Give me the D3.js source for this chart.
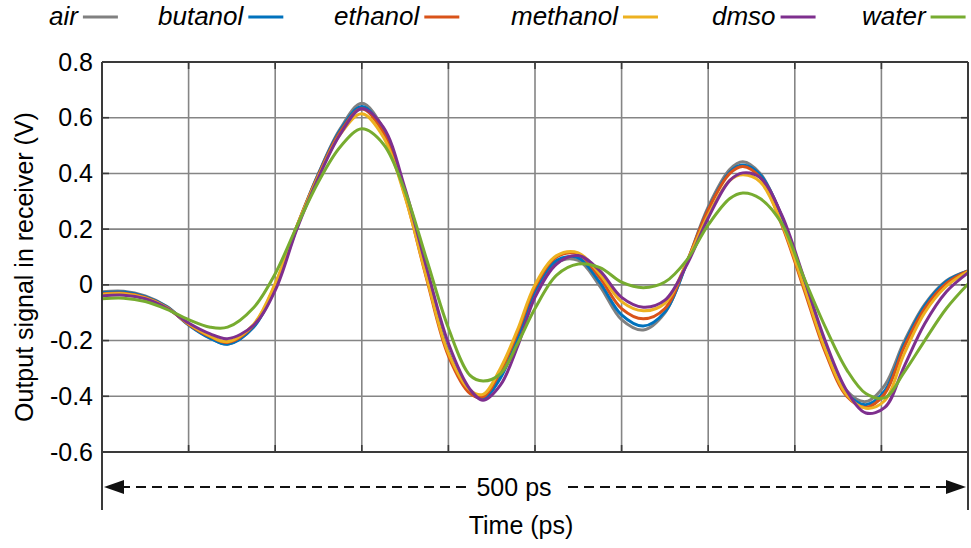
<!DOCTYPE html>
<html>
<head>
<meta charset="utf-8">
<script src="https://cdn.jsdelivr.net/npm/d3@7"></script>
<style>
  html, body { margin: 0; padding: 0; background: #fff; }
  svg { display: block; font-family: "Liberation Sans", Arial, Helvetica, sans-serif; }
</style>
</head>
<body>
<svg id="chart" width="971" height="548"></svg>
<script>
// Sample times (ps)
const times = [0, 12.5, 25, 37.5, 50, 62.5, 72.5, 87.5, 100, 112.5, 125, 137.5, 150, 162.5, 175, 187.5,
  200, 212.5, 220, 230, 240, 250, 262.5, 275, 287.5, 300, 312.5, 325, 337.5, 350,
  362.5, 370, 380, 392.5, 405, 417.5, 430, 441, 452, 463, 475, 487.5, 500];

// Receiver output (V) for each medium
const air = [-0.025, -0.023, -0.04, -0.078, -0.142, -0.19, -0.212, -0.15, -0.005, 0.21, 0.40, 0.56, 0.652, 0.56, 0.33, 0.035,
  -0.24, -0.38, -0.405, -0.33, -0.185, -0.025, 0.08, 0.088, -0.005, -0.125, -0.162, -0.1, 0.078, 0.28,
  0.415, 0.442, 0.40, 0.245, 0.02, -0.21, -0.38, -0.419, -0.36, -0.205, -0.07, 0.015, 0.05];
const butanol = [-0.028, -0.026, -0.042, -0.079, -0.144, -0.192, -0.213, -0.152, -0.01, 0.205, 0.398, 0.555, 0.64, 0.555, 0.33, 0.03,
  -0.245, -0.385, -0.408, -0.335, -0.19, -0.02, 0.088, 0.097, 0.008, -0.108, -0.148, -0.097, 0.075, 0.272,
  0.405, 0.43, 0.395, 0.245, 0.015, -0.22, -0.39, -0.43, -0.38, -0.215, -0.075, 0.012, 0.05];
const ethanol = [-0.033, -0.03, -0.045, -0.081, -0.142, -0.186, -0.207, -0.145, 0.0, 0.21, 0.395, 0.548, 0.632, 0.545, 0.32, 0.02,
  -0.255, -0.39, -0.402, -0.31, -0.17, -0.008, 0.1, 0.11, 0.025, -0.085, -0.122, -0.085, 0.08, 0.27,
  0.40, 0.425, 0.385, 0.215, -0.01, -0.24, -0.40, -0.44, -0.39, -0.225, -0.085, 0.005, 0.05];
const methanol = [-0.035, -0.032, -0.047, -0.082, -0.14, -0.184, -0.204, -0.142, 0.005, 0.21, 0.39, 0.54, 0.614, 0.53, 0.315, 0.025,
  -0.245, -0.378, -0.393, -0.30, -0.16, 0.0, 0.105, 0.115, 0.038, -0.06, -0.093, -0.066, 0.08, 0.25,
  0.375, 0.395, 0.37, 0.22, 0.0, -0.23, -0.395, -0.443, -0.415, -0.25, -0.10, -0.005, 0.048];
const dmso = [-0.04, -0.037, -0.05, -0.084, -0.137, -0.176, -0.193, -0.145, -0.02, 0.20, 0.385, 0.54, 0.632, 0.565, 0.345, 0.06,
  -0.21, -0.375, -0.414, -0.36, -0.22, -0.045, 0.075, 0.105, 0.05, -0.045, -0.08, -0.055, 0.07, 0.24,
  0.375, 0.402, 0.385, 0.25, 0.03, -0.20, -0.38, -0.46, -0.44, -0.295, -0.14, -0.025, 0.043];
const water = [-0.05, -0.048, -0.06, -0.088, -0.125, -0.152, -0.152, -0.082, 0.04, 0.21, 0.37, 0.495, 0.56, 0.505, 0.335, 0.09,
  -0.155, -0.325, -0.345, -0.32, -0.21, -0.085, 0.035, 0.075, 0.062, 0.01, -0.01, 0.01, 0.088, 0.215,
  0.31, 0.33, 0.31, 0.22, 0.03, -0.15, -0.305, -0.39, -0.405, -0.315, -0.2, -0.085, 0.003];

const seriesNames = ["air", "butanol", "ethanol", "methanol", "dmso", "water"];
const seriesValues = [air, butanol, ethanol, methanol, dmso, water];
const seriesColors = ["#808080", "#0072BD", "#D95319", "#EDB120", "#7E2F8E", "#77AC30"];

const yTicks = [0.8, 0.6, 0.4, 0.2, 0, -0.2, -0.4, -0.6];
const xGrid = [50, 100, 150, 200, 250, 300, 350, 400, 450];
const spanLabel = "500 ps";
const xTitle = "Time (ps)";
const yTitle = "Output signal in receiver (V)";

const svg = d3.select("#chart");
const x = d3.scaleLinear().domain([0, 500]).range([102, 968]);
const y = d3.scaleLinear().domain([-0.6, 0.8]).range([452, 62]);
const [x0, x1] = x.range();
const yTop = y(0.8), yBot = y(-0.6);
const extBottom = 510;
const frameColor = "#3a3a3a";
const gridColor = "#858585";

// grid
const grid = svg.append("g");
grid.selectAll("line.v").data(xGrid).join("line")
  .attr("x1", d => x(d)).attr("x2", d => x(d))
  .attr("y1", yTop).attr("y2", yBot)
  .attr("stroke", gridColor).attr("stroke-width", 1.6);
grid.selectAll("line.h").data(yTicks.filter(d => d < 0.8 && d > -0.6)).join("line")
  .attr("x1", x0).attr("x2", x1)
  .attr("y1", d => y(d)).attr("y2", d => y(d))
  .attr("stroke", gridColor).attr("stroke-width", 1.6);

// inner tick marks
const tl = 7;
const ticks = svg.append("g").attr("stroke", frameColor).attr("stroke-width", 1.6);
yTicks.forEach(d => {
  ticks.append("line").attr("x1", x0).attr("x2", x0 + tl).attr("y1", y(d)).attr("y2", y(d));
  ticks.append("line").attr("x1", x1).attr("x2", x1 - tl).attr("y1", y(d)).attr("y2", y(d));
});
xGrid.forEach(d => {
  ticks.append("line").attr("x1", x(d)).attr("x2", x(d)).attr("y1", yTop).attr("y2", yTop + tl);
  ticks.append("line").attr("x1", x(d)).attr("x2", x(d)).attr("y1", yBot).attr("y2", yBot - tl);
});

// series
const line = d3.line()
  .x((d, i) => x(times[i]))
  .y(d => y(d))
  .curve(d3.curveCatmullRom.alpha(0.5));
svg.append("g").selectAll("path").data(seriesValues).join("path")
  .attr("d", d => line(d))
  .attr("fill", "none")
  .attr("stroke", (d, i) => seriesColors[i])
  .attr("stroke-width", 3)
  .attr("stroke-linejoin", "round");

// frame
const frame = svg.append("g").attr("stroke", frameColor).attr("stroke-width", 2).attr("fill", "none");
frame.append("line").attr("x1", x0).attr("x2", x1).attr("y1", yTop).attr("y2", yTop);
frame.append("line").attr("x1", x0).attr("x2", x1).attr("y1", yBot).attr("y2", yBot);
frame.append("line").attr("x1", x0).attr("x2", x0).attr("y1", yTop).attr("y2", extBottom);
frame.append("line").attr("x1", x1).attr("x2", x1).attr("y1", yTop).attr("y2", extBottom);

// y axis labels
const yAxis = d3.axisLeft(y).tickValues(yTicks).tickSize(0).tickPadding(9)
  .tickFormat(d => d === 0 ? "0" : d.toFixed(1));
const ya = svg.append("g").attr("transform", `translate(${x0},0)`).call(yAxis);
ya.select(".domain").remove();
ya.selectAll("text").attr("font-size", 25).attr("fill", "#000")
  .attr("font-family", '"Liberation Sans", Arial, sans-serif');

// y title
svg.append("text")
  .attr("transform", `translate(33,267) rotate(-90)`)
  .attr("text-anchor", "middle")
  .attr("font-size", 25)
  .text(yTitle);

// span arrow
const ay = 487;
const dim = svg.append("g");
dim.append("line").attr("x1", x0 + 18).attr("x2", x1 - 18).attr("y1", ay).attr("y2", ay)
  .attr("stroke", "#111").attr("stroke-width", 2).attr("stroke-dasharray", "10,6");
dim.append("path").attr("d", `M${x0 + 2},${ay} L${x0 + 22},${ay - 7} L${x0 + 22},${ay + 7} Z`).attr("fill", "#111");
dim.append("path").attr("d", `M${x1 - 2},${ay} L${x1 - 22},${ay - 7} L${x1 - 22},${ay + 7} Z`).attr("fill", "#111");
const midX = 518;
dim.append("rect").attr("x", midX - 52).attr("y", ay - 16).attr("width", 98).attr("height", 32).attr("fill", "#fff");
dim.append("text").attr("x", midX - 4).attr("y", ay + 9).attr("text-anchor", "middle")
  .attr("font-size", 25).text(spanLabel);

// x title
svg.append("text").attr("x", 521).attr("y", 534).attr("text-anchor", "middle")
  .attr("font-size", 25).text(xTitle);

// legend
const legendX = [49, 158, 334, 511, 712, 862];
const lg = svg.append("g");
seriesNames.forEach((name, i) => {
  const t = lg.append("text").attr("x", legendX[i]).attr("y", 25)
    .attr("font-size", 26).attr("font-style", "italic").text(name);
  const w = t.node().getComputedTextLength();
  lg.append("line").attr("x1", legendX[i] + w + 5).attr("x2", legendX[i] + w + 40)
    .attr("y1", 17).attr("y2", 17)
    .attr("stroke", seriesColors[i]).attr("stroke-width", 3);
});
</script>
</body>
</html>
